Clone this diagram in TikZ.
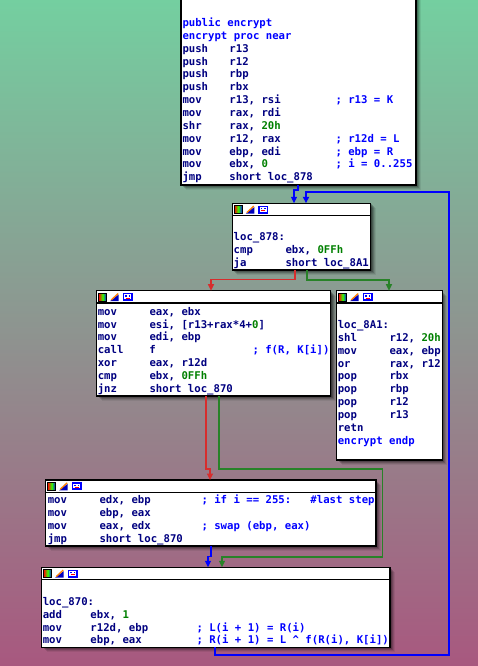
\documentclass[tikz,border=0pt]{standalone}
\usepackage{fontspec}
\usepackage{array}
\usetikzlibrary{arrows.meta}
\newfontfamily\idafont{DejaVu Sans Mono}

\definecolor{bgtop}{RGB}{116,207,160}
\definecolor{bgbot}{RGB}{168,88,127}
\definecolor{ins}{RGB}{0,0,128}
\definecolor{cmt}{RGB}{0,0,255}
\definecolor{numc}{RGB}{0,128,0}
\definecolor{ered}{RGB}{215,45,45}
\definecolor{egreen}{RGB}{40,130,40}
\definecolor{eblue}{RGB}{0,0,255}

% fixed-width listing column that never wraps
\newcolumntype{W}[1]{>{\hbox to #1\bgroup}l<{\hss\egroup}}

% colour helpers for listing text
\newcommand\Nm[1]{\textcolor{numc}{#1}}
\newcommand\Cm[1]{\textcolor{cmt}{#1}}
\newcommand\Lb[1]{\multicolumn{3}{@{}l@{}}{#1}}

% soft drop shadow under a block
\newcommand\dropshadow[4]{%
  \foreach \k/\o in {1/.24,2/.2,3/.16,4/.11,5/.07}{%
    \fill[black,opacity=\o] (#1+\k,#2+\k) rectangle (#3+\k,#4+\k);}}

% toolbar icons of a block header
\newcommand\hdricons[2]{%
  \shade[left color=red, right color=blue, middle color=green!80!yellow] (#1,#2) rectangle ++(8,8);
  \draw[line width=.6pt] (#1,#2) rectangle ++(8,8);
  \fill[blue!75!black] (#1+11.5,#2+8) -- (#1+20,#2+8) -- (#1+20,#2+1.5) -- cycle;
  \draw[orange, line width=1.3pt] (#1+12.5,#2+7) -- (#1+19.5,#2+0.5);
  \fill[blue] (#1+24,#2) rectangle ++(10,8);
  \fill[white] (#1+25.3,#2+1.3) rectangle ++(7.4,4.8);
  \fill[blue] (#1+26.5,#2+2.3) rectangle ++(1.4,1.4);
  \fill[blue] (#1+30,#2+2.3) rectangle ++(1.4,1.4);
  \draw[red, line width=.8pt] (#1+27,#2+5) -- ++(4,0);
}

% block with header: name, x1, y1, x2, y2
\newcommand\idablock[5]{%
  \dropshadow{#2}{#3}{#4}{#5}
  \pgfmathsetmacro\bw{#4-#2}\pgfmathsetmacro\bh{#5-#3}
  \node[blk, minimum width=\bw pt, minimum height=\bh pt] (#1) at (#2,#3) {};
  \draw[line width=1.1pt] (#2,#3+12.3) -- (#4,#3+12.3);
  \hdricons{#2+2}{#3+2.3}
}

\begin{document}
\begin{tikzpicture}[x=1pt,y=-1pt,
  blk/.style={draw=black, line width=1.4pt, fill=white, rectangle,
    inner sep=0pt, outer sep=0pt, anchor=north west},
  code/.style={inner sep=0pt, outer sep=0pt, anchor=north west, text=ins,
    font=\idafont\bfseries\fontsize{10.65}{12.85}\selectfont},
  edge/.style={line width=1.2pt, line join=miter,
    -{Triangle[length=6.5pt,width=6pt]}},
  backedge/.style={edge, line width=2.4pt}]

\useasboundingbox (0,0) rectangle (478,666);
\shade[top color=bgtop, bottom color=bgbot] (0,0) rectangle (478,666);

% entry block (its header lies above the frame)
\dropshadow{181}{-15}{416}{185}
\node[blk, minimum width=235pt, minimum height=200pt] (top) at (181,-15) {};

\idablock{b878}{232.3}{203.3}{370.7}{270}
\idablock{bleft}{96.7}{290.7}{330.7}{396}
\idablock{bright}{336.7}{290.7}{442.3}{460}
\idablock{bswap}{45.7}{480}{376}{546}
\idablock{bbot}{41.7}{567.3}{390}{647.3}

% listings
\node[code] (ttop) at (182.5,17.6) {%
\begin{tabular}{@{}W{47pt}@{}W{106pt}@{}l@{}}
\Lb{\Cm{public encrypt}}\\
\Lb{\Cm{encrypt proc near}}\\
push & r13 & \\
push & r12 & \\
push & rbp & \\
push & rbx & \\
mov & r13, rsi & \Cm{; r13 = K}\\
mov & rax, rdi & \\
shr & rax, \Nm{20h} & \\
mov & r12, rax & \Cm{; r12d = L}\\
mov & ebp, edi & \Cm{; ebp = R}\\
mov & ebx, \Nm{0} & \Cm{; i = 0..255}\\
jmp & short loc\_878 &
\end{tabular}};

\node[code] (t878) at (233.7,231.6) {%
\begin{tabular}{@{}W{51.8pt}@{}l@{}}
\multicolumn{2}{@{}l@{}}{loc\_878:}\\
cmp & ebx, \Nm{0FFh}\\
ja & short loc\_8A1
\end{tabular}};

\node[code] (tleft) at (97.8,306.3) {%
\begin{tabular}{@{}W{51.7pt}@{}W{103pt}@{}l@{}}
mov & eax, ebx & \\
mov & esi, [r13+rax*4+\Nm{0}] & \\
mov & edi, ebp & \\
call & f & \Cm{; f(R, K[i])}\\
xor & eax, r12d & \\
cmp & ebx, \Nm{0FFh} & \\
jnz & short loc\_870 &
\end{tabular}};

\node[code] (tright) at (337.8,319.6) {%
\begin{tabular}{@{}W{51.7pt}@{}l@{}}
\multicolumn{2}{@{}l@{}}{loc\_8A1:}\\
shl & r12, \Nm{20h}\\
mov & eax, ebp\\
or & rax, r12\\
pop & rbx\\
pop & rbp\\
pop & r12\\
pop & r13\\
\multicolumn{2}{@{}l@{}}{retn}\\
\multicolumn{2}{@{}l@{}}{\Cm{encrypt endp}}
\end{tabular}};

\node[code] (tswap) at (47.8,494.6) {%
\begin{tabular}{@{}W{51.7pt}@{}W{102pt}@{}l@{}}
mov & edx, ebp & \Cm{; if i == 255:~~~\#last step}\\
mov & ebp, eax & \\
mov & eax, edx & \Cm{; swap (ebp, eax)}\\
jmp & short loc\_870 &
\end{tabular}};

\node[code] (tbot) at (42.8,596.3) {%
\begin{tabular}{@{}W{47.7pt}@{}W{106pt}@{}l@{}}
\Lb{loc\_870:}\\
add & ebx, \Nm{1} & \\
mov & r12d, ebp & \Cm{; L(i + 1) = R(i)}\\
mov & ebp, eax & \Cm{; R(i + 1) = L \textasciicircum{} f(R(i), K[i])}
\end{tabular}};

% control-flow edges
\draw[edge, eblue] (top.south -| 298,0) -- (298,190) -- (294,190) -- (b878.north -| 294,0);
\draw[backedge, eblue] (bbot.south -| 215,0) -- (215,655) -- (449,655)
  -- (449,192) -- (306,192) -- (b878.north -| 306,0);
\draw[edge, ered] (b878.south -| 295,0) -- (295,279.5) -- (211,279.5) -- (bleft.north -| 211,0);
\draw[edge, egreen] (b878.south -| 307,0) -- (307,280) -- (389,280) -- (bright.north -| 389,0);
\draw[edge, ered] (bleft.south -| 206,0) -- (206,469) -- (210,469) -- (bswap.north -| 210,0);
\draw[edge, egreen] (bleft.south -| 219,0) -- (219,469) -- (382.5,469) -- (382.5,557)
  -- (222,557) -- (bbot.north -| 222,0);
\draw[edge, eblue] (bswap.south -| 211,0) -- (211,556.5) -- (208,556.5) -- (bbot.north -| 208,0);

\end{tikzpicture}
\end{document}
